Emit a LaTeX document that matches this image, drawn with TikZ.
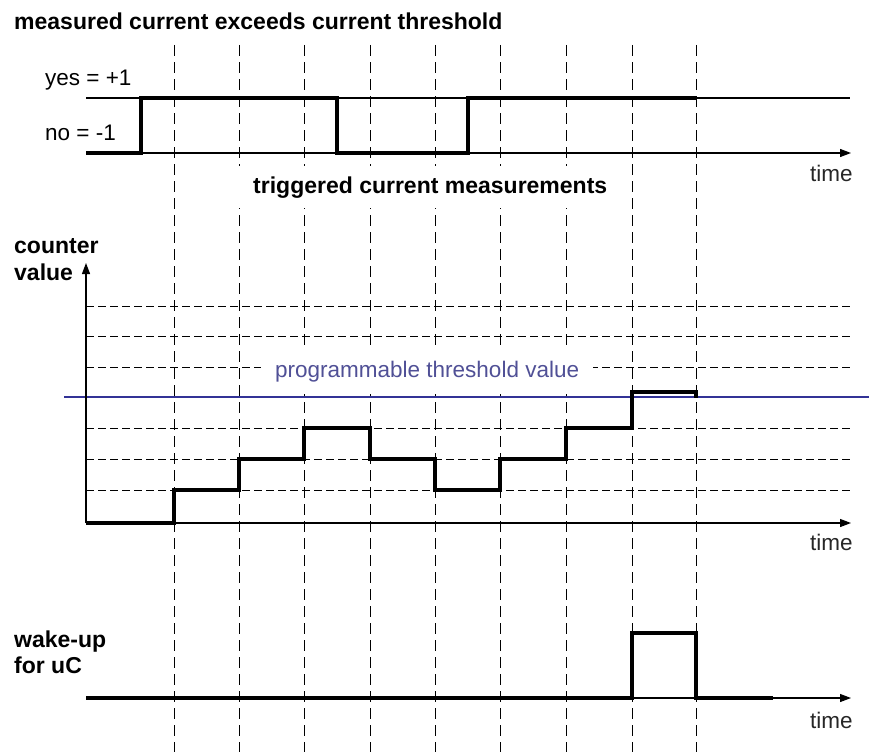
\documentclass[tikz,border=0pt]{standalone}
\usepackage{fontspec}
\setmainfont{Liberation Sans}
\usetikzlibrary{arrows.meta}
\definecolor{thrblue}{RGB}{50,50,150}
\definecolor{thrtext}{RGB}{80,80,150}
\tikzset{
  vgrid/.style={line width=1pt, dash pattern=on 11pt off 6pt},
  hgrid/.style={line width=1pt, dash pattern=on 8pt off 4pt},
  thin axis/.style={line width=1.2pt},
  axis arrow/.style={line width=1.2pt, -{Triangle[length=11pt,width=8pt]}},
  signal/.style={line width=3.2pt, line join=miter},
  boldlbl/.style={font=\fontsize{23}{27}\selectfont\bfseries, inner sep=0pt, anchor=base west},
  lbl/.style={font=\fontsize{22.5}{26}\selectfont, inner sep=0pt, anchor=base west},
}
\begin{document}
\begin{tikzpicture}[x=1pt, y=-1pt]
\useasboundingbox[fill=white] (0,0) rectangle (869,752);

% vertical dashed measurement lines
\foreach \xx in {174,239,304,370,435,500,566,632,696}
  \draw[vgrid] (\xx,45) -- (\xx,752);

% horizontal dashed grid of counter values
\foreach \yy in {306,336,367,428,459,490}
  \draw[hgrid] (86,\yy) -- (850,\yy);

% texts
\node[boldlbl] (title) at (14,30) {measured current exceeds current threshold};
\node[lbl] (yes) at (45,85) {yes = +1};
\node[lbl] (no) at (45,140) {no = -1};
\node[lbl, text=black!85] (time1) at (810,181) {time};
\node[boldlbl, fill=white, inner xsep=15pt, inner ysep=10pt] (trig) at (238,193) {triggered current measurements};
\node[boldlbl] (counter) at (14,253) {counter};
\node[boldlbl] (value) at (14,280) {value};
\node[lbl, text=thrtext, fill=white, inner xsep=14pt, inner ysep=12pt] (thr) at (261,377) {programmable threshold value};
\node[lbl, text=black!85] (time2) at (810,550) {time};
\node[boldlbl] (wake) at (14,647) {wake-up};
\node[boldlbl] (foruc) at (14,673) {for uC};
\node[lbl, text=black!85] (time3) at (810,728) {time};

% coordinates
\coordinate (t0) at (86,153);
\coordinate (t1) at (851,153);
\coordinate (c0) at (86,523);
\coordinate (c1) at (851,523);
\coordinate (cy) at (86,263);
\coordinate (w0) at (86,698);
\coordinate (w1) at (851,698);

% top panel
\draw[thin axis] (86,98) -- (850,98);
\draw[axis arrow] (t0) -- (t1);
\draw[signal] (86,153) -- (141,153) -- (141,98) -- (337,98) -- (337,153)
  -- (468,153) -- (468,98) -- (696,98);

% counter panel
\draw[line width=1.6pt, thrblue] (64,397) -- (869,397);
\draw[axis arrow] (c0) -- (cy);
\draw[axis arrow] (c0) -- (c1);
\draw[signal] (86,523) -- (174,523) -- (174,490) -- (239,490) -- (239,459)
  -- (304,459) -- (304,428) -- (370,428) -- (370,459) -- (435,459)
  -- (435,490) -- (500,490) -- (500,459) -- (566,459) -- (566,428)
  -- (632,428) -- (632,392) -- (696,392) -- (696,398);

% wake-up panel
\draw[axis arrow] (w0) -- (w1);
\draw[signal] (86,698) -- (632,698) -- (632,633) -- (696,633) -- (696,698) -- (773,698);
\end{tikzpicture}
\end{document}
